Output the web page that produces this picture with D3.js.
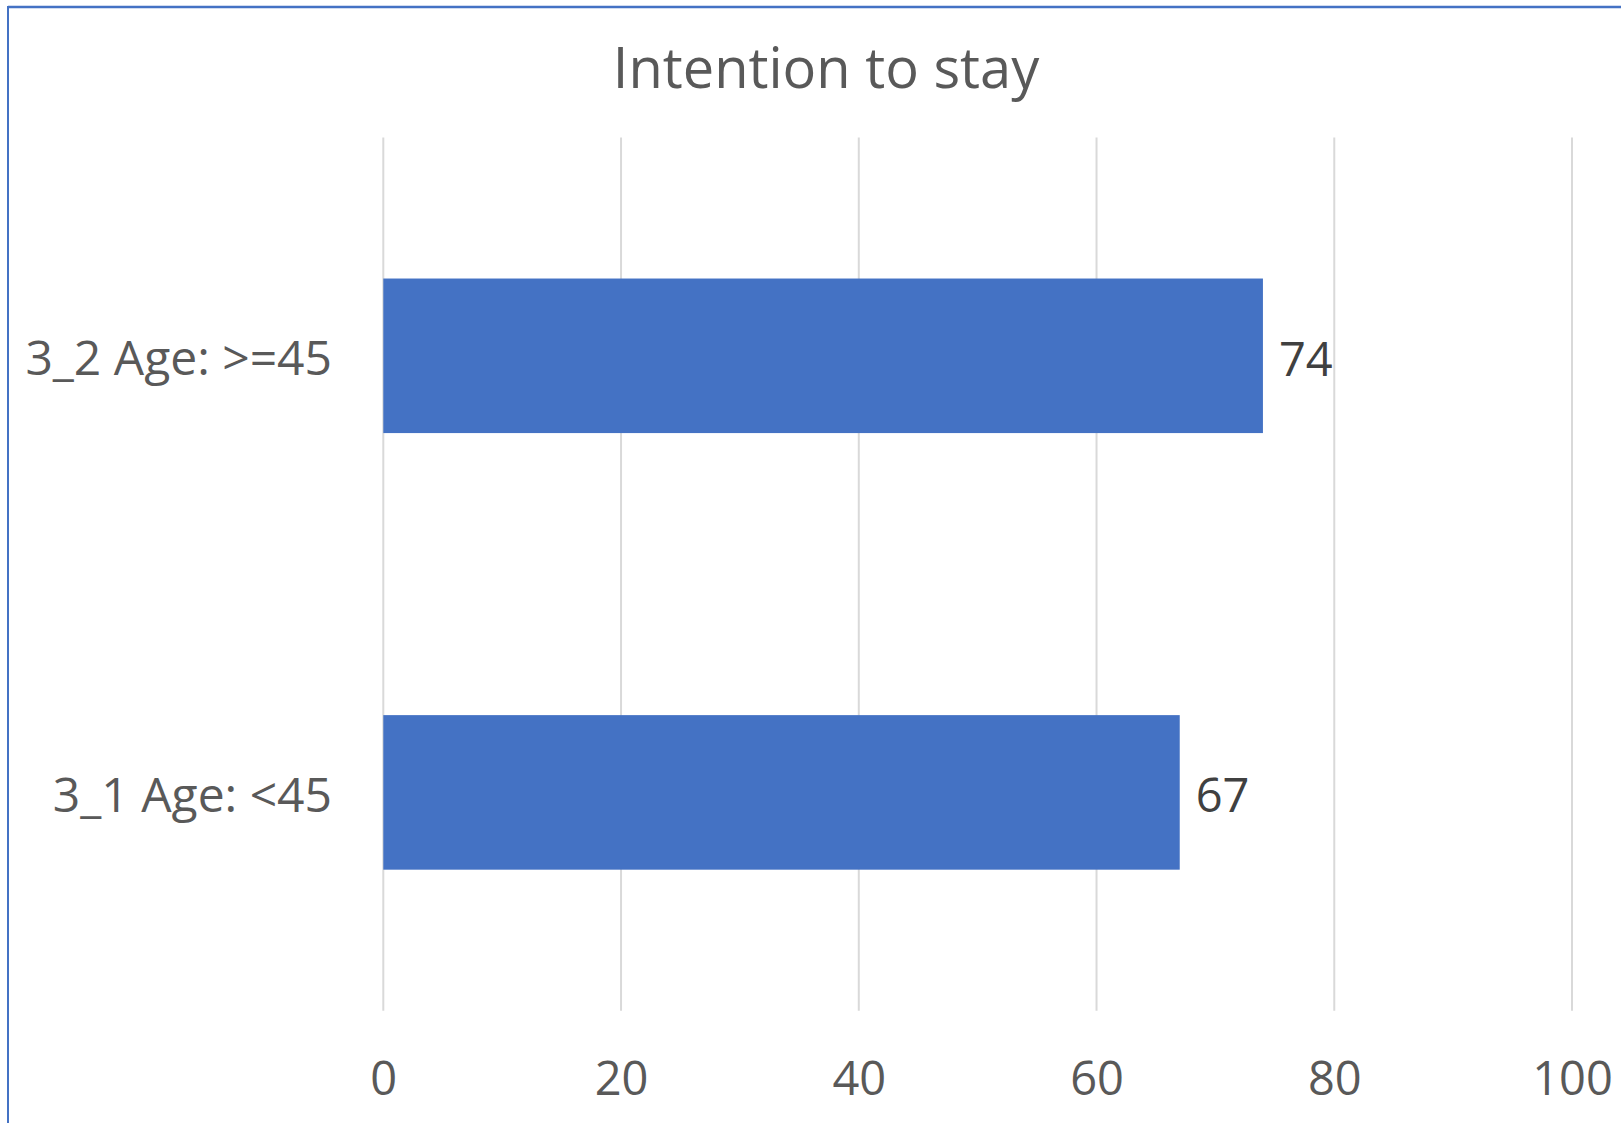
<!DOCTYPE html>
<html><head><meta charset="utf-8">
<script src="https://cdn.jsdelivr.net/npm/d3@7"></script>
<style>html,body{margin:0;padding:0;background:#fff;overflow:hidden}</style>
</head><body>
<svg id="chart" width="1621" height="1123"></svg>
<script>
const title = "Intention to stay";
const categories = ["3_2 Age: >=45", "3_1 Age: <45"];
const values = [74, 67];
const tickValues = [0, 20, 40, 60, 80, 100];

const W = 1621, H = 1123;
const svg = d3.select("#chart");
const font = "'Open Sans', sans-serif";

// chart border (blue)
svg.append("line").attr("x1", 8).attr("x2", W).attr("y1", 7).attr("y2", 7)
  .attr("stroke", "#4472C4").attr("stroke-width", 2.5);
svg.append("line").attr("x1", 8).attr("x2", 8).attr("y1", 6).attr("y2", H)
  .attr("stroke", "#4472C4").attr("stroke-width", 2);

const x = d3.scaleLinear().domain([0, 100]).range([383.3, 1572]);
const y = d3.scaleBand().domain(categories).range([137.5, 1010.7])
  .paddingInner(0.646).paddingOuter(0.323);

// gridlines
svg.append("g").selectAll("line").data(tickValues).join("line")
  .attr("x1", d => x(d)).attr("x2", d => x(d))
  .attr("y1", 137.5).attr("y2", 1010.7)
  .attr("stroke", "#d9d9d9").attr("stroke-width", 2);

// x axis labels
const xAxis = d3.axisBottom(x).tickValues(tickValues).tickSize(0).tickPadding(0);
const gx = svg.append("g").attr("transform", "translate(0,1010.7)").call(xAxis);
gx.select(".domain").remove();
gx.selectAll("text").attr("font-family", font).attr("font-size", 47)
  .attr("fill", "#595959").attr("dy", null).attr("y", 84);

// y axis labels
const yAxis = d3.axisLeft(y).tickSize(0).tickPadding(0);
const gy = svg.append("g").attr("transform", "translate(332,0)").call(yAxis);
gy.select(".domain").remove();
gy.selectAll("text").attr("font-family", font).attr("font-size", 48)
  .attr("fill", "#595959").attr("dy", "0.4em");

// bars
svg.append("g").selectAll("rect").data(values).join("rect")
  .attr("x", x(0))
  .attr("y", (d, i) => y(categories[i]))
  .attr("width", d => x(d) - x(0))
  .attr("height", y.bandwidth())
  .attr("fill", "#4472C4");

// value labels
svg.append("g").selectAll("text").data(values).join("text")
  .attr("x", d => x(d) + 16)
  .attr("y", (d, i) => y(categories[i]) + y.bandwidth() / 2)
  .attr("dy", "0.42em")
  .attr("font-family", font).attr("font-size", 47)
  .attr("fill", "#404040")
  .text(d => d);

// title
svg.append("text").attr("x", 826).attr("y", 88)
  .attr("text-anchor", "middle")
  .attr("font-family", font).attr("font-size", 56)
  .attr("fill", "#595959").text(title);
</script>
</body></html>
